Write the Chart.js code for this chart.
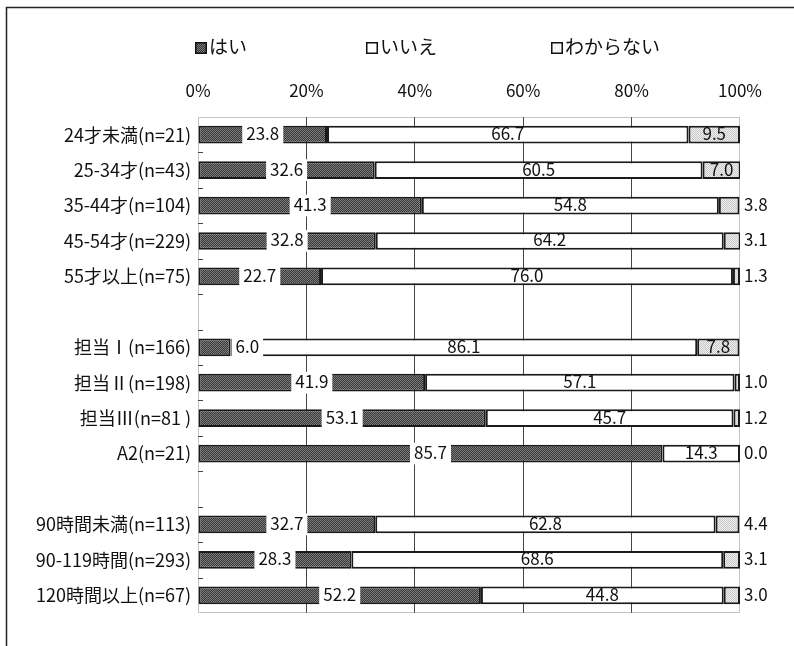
<!DOCTYPE html>
<html lang="ja">
  <head>
    <meta charset="UTF-8" />
    <script src="https://cdn.jsdelivr.net/npm/chart.js"></script>
    <title>chart</title>
    <style>
      body { margin: 0; background: #fff; }
    </style>
  </head>
  <body>
    <canvas id="myChart" width="794" height="646"></canvas>
    <script>
      // categories ('' = spacer rows between groups)
      const categories = [
        "24才未満(n=21)", "25-34才(n=43)", "35-44才(n=104)", "45-54才(n=229)", "55才以上(n=75)",
        "",
        "担当Ⅰ(n=166)", "担当Ⅱ(n=198)", "担当Ⅲ(n=81 )", "A2(n=21)",
        "",
        "90時間未満(n=113)", "90-119時間(n=293)", "120時間以上(n=67)"
      ];
      const seriesNames = ["はい", "いいえ", "わからない"];
      const yes = [23.8, 32.6, 41.3, 32.8, 22.7, null, 6.0, 41.9, 53.1, 85.7, null, 32.7, 28.3, 52.2];
      const no = [66.7, 60.5, 54.8, 64.2, 76.0, null, 86.1, 57.1, 45.7, 14.3, null, 62.8, 68.6, 44.8];
      const unknown = [9.5, 7.0, 3.8, 3.1, 1.3, null, 7.8, 1.0, 1.2, 0.0, null, 4.4, 3.1, 3.0];
      const xTicks = [0, 20, 40, 60, 80, 100];

      const FONT = '"Noto Sans CJK JP", "Noto Sans", sans-serif';

      function makePattern(a, b) {
        const c = document.createElement("canvas");
        c.width = 2; c.height = 2;
        const g = c.getContext("2d");
        g.fillStyle = a; g.fillRect(0, 0, 2, 2);
        g.fillStyle = b; g.fillRect(0, 0, 1, 1); g.fillRect(1, 1, 1, 1);
        return g.createPattern(c, "repeat");
      }
      const darkFill = makePattern("#363636", "#7e7e7e");
      const lightFill = makePattern("#efefef", "#c8c8c8");
      const fills = [darkFill, "#ffffff", lightFill];

      // frame, plot border, category marks and the legend
      const decor = {
        id: "decor",
        beforeDraw(chart) {
          const ctx = chart.ctx;
          ctx.save();
          ctx.fillStyle = "#fff";
          ctx.fillRect(0, 0, chart.width, chart.height);
          ctx.strokeStyle = "#222";
          ctx.lineWidth = 1.5;
          ctx.beginPath();
          ctx.moveTo(6.5, chart.height);
          ctx.lineTo(6.5, 7.5);
          ctx.lineTo(chart.width, 7.5);
          ctx.stroke();
          ctx.restore();
        },
        beforeDatasetsDraw(chart) {
          const ctx = chart.ctx, a = chart.chartArea, ys = chart.scales.y;
          ctx.save();
          ctx.strokeStyle = "#888";
          ctx.lineWidth = 1;
          ctx.setLineDash([1, 1]);
          ctx.strokeRect(a.left + 0.5, a.top + 0.5, a.right - a.left - 1, a.bottom - a.top - 1);
          ctx.setLineDash([]);
          ctx.strokeStyle = "#444";
          for (let i = 0; i < categories.length - 1; i++) {
            const yy = Math.round((ys.getPixelForValue(i) + ys.getPixelForValue(i + 1)) / 2) + 0.5;
            ctx.beginPath();
            ctx.moveTo(a.left, yy);
            ctx.lineTo(a.left + 5, yy);
            ctx.stroke();
          }
          ctx.restore();
        },
        afterDraw(chart) {
          const ctx = chart.ctx;
          const boxX = [195, 366, 551];
          ctx.save();
          ctx.font = "19px " + FONT;
          ctx.textBaseline = "middle";
          seriesNames.forEach((name, i) => {
            ctx.fillStyle = i === 2 ? "#f6f6f6" : fills[i];
            ctx.fillRect(boxX[i], 42, 12, 12);
            ctx.strokeStyle = "#111";
            ctx.lineWidth = 1.5;
            ctx.strokeRect(boxX[i] + 0.75, 42.75, 10.5, 10.5);
            ctx.fillStyle = "#111";
            ctx.fillText(name, boxX[i] + 14, 47);
          });
          ctx.restore();
        }
      };

      // value labels
      const valueLabels = {
        id: "valueLabels",
        afterDatasetsDraw(chart) {
          const ctx = chart.ctx, a = chart.chartArea;
          ctx.save();
          ctx.font = "17px " + FONT;
          ctx.textBaseline = "middle";
          chart.data.datasets.forEach((ds, di) => {
            const meta = chart.getDatasetMeta(di);
            meta.data.forEach((bar, i) => {
              const v = ds.data[i];
              if (v == null) return;
              const txt = v.toFixed(1);
              const p = bar.getProps(["x", "y", "base", "height"], true);
              let cx = (p.x + p.base) / 2;
              const w = ctx.measureText(txt).width;
              const ty = p.y - 1;
              ctx.fillStyle = "#111";
              ctx.textAlign = "center";
              if (di === 0) {
                // narrow segment: put the boxed label just past its end
                if (w + 16 > p.x - p.base) cx = p.x + w / 2 + 5;
                ctx.fillStyle = "#fff";
                ctx.fillRect(cx - w / 2 - 4, p.y - p.height / 2 - 2, w + 8, p.height + 4);
                ctx.fillStyle = "#111";
                ctx.fillText(txt, cx, ty);
              } else if (di === 1 || v >= 5) {
                ctx.fillText(txt, cx, ty);
              } else {
                ctx.textAlign = "left";
                ctx.fillText(txt, a.right + 4, ty);
              }
            });
          });
          ctx.restore();
        }
      };

      const data = {
        labels: categories,
        datasets: [yes, no, unknown].map((vals, i) => ({
          label: seriesNames[i],
          data: vals,
          backgroundColor: fills[i],
          borderColor: "#1a1a1a",
          borderWidth: 2,
          borderSkipped: false,
          barPercentage: 0.5,
          categoryPercentage: 1
        }))
      };

      const config = {
        type: "bar",
        data,
        options: {
          indexAxis: "y",
          responsive: false,
          animation: false,
          layout: { padding: { left: 0, right: 54, top: 0, bottom: 33 } },
          plugins: {
            legend: { display: false },
            tooltip: { enabled: false }
          },
          scales: {
            x: {
              position: "top",
              stacked: true,
              min: 0,
              max: 100,
              afterBuildTicks: (s) => { s.ticks = xTicks.map((v) => ({ value: v })); },
              afterFit: (s) => { s.height = 117; },
              border: { display: false },
              grid: {
                drawTicks: false,
                color: (c) => (c.index === 0 || c.index === xTicks.length - 1 ? "rgba(0,0,0,0)" : "#444"),
                lineWidth: 1
              },
              ticks: {
                padding: 16,
                color: "#111",
                font: { family: FONT, size: 17 },
                callback: (v) => v + "%"
              }
            },
            y: {
              stacked: true,
              afterFit: (s) => { s.width = 198; },
              border: { display: false },
              grid: { display: false, drawTicks: false },
              ticks: {
                padding: 7,
                color: "#111",
                font: { family: FONT, size: 18 }
              }
            }
          }
        },
        plugins: [decor, valueLabels]
      };

      var myChart = new Chart(document.getElementById("myChart"), config);
    </script>
  </body>
</html>
